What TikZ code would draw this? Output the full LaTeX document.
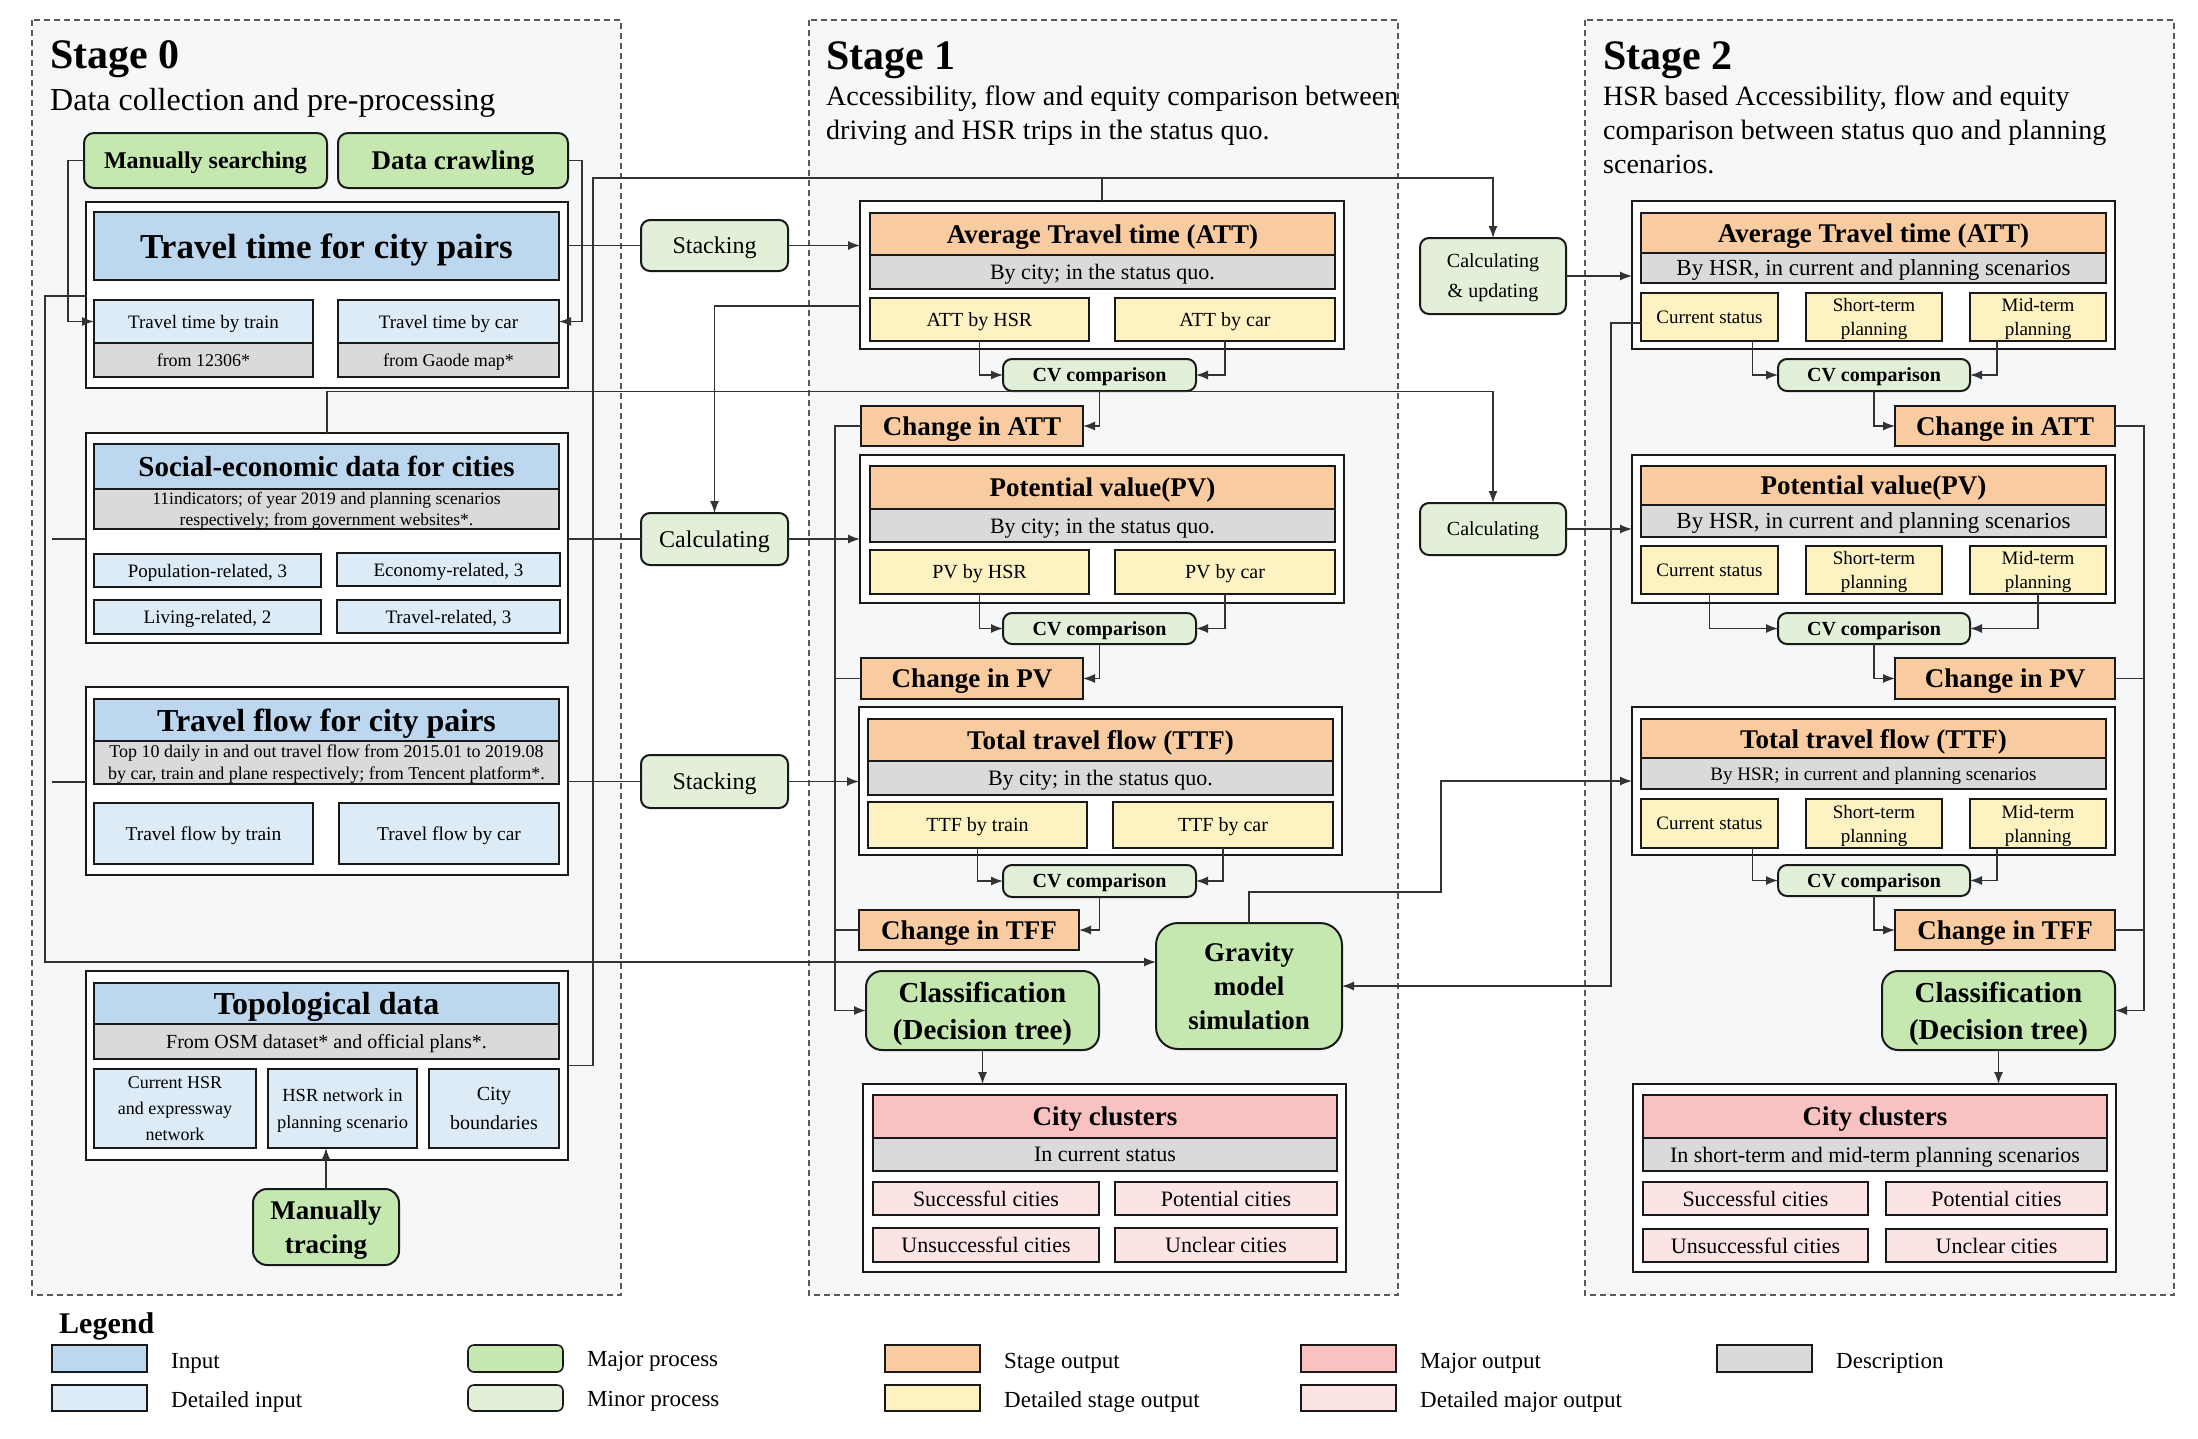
\documentclass[tikz,border=0pt]{standalone}
\usepackage{fontspec}
\setmainfont{Liberation Serif}
\usetikzlibrary{arrows.meta}
\definecolor{cin}{HTML}{BDD7EE}
\definecolor{cdin}{HTML}{DDEBF7}
\definecolor{cmaj}{HTML}{C5E8B0}
\definecolor{cmin}{HTML}{E2F0D9}
\definecolor{cso}{HTML}{F8CBA0}
\definecolor{cdso}{HTML}{FDF2C2}
\definecolor{cmo}{HTML}{F8C2C2}
\definecolor{cdmo}{HTML}{FCE4E4}
\definecolor{cdesc}{HTML}{DADADC}
\definecolor{cstage}{HTML}{F6F7F9}
\definecolor{cline}{HTML}{333333}
\newcommand{\fsz}[2]{\fontsize{#1pt}{#2pt}\selectfont}
\newcommand{\bx}[7]{%
  \pgfmathsetmacro\bxw{#5-#3}\pgfmathsetmacro\bxh{#6-#4}%
  \node[#2, minimum width=\bxw pt, minimum height=\bxh pt] (#1) at (#3,#4) {#7};}
\tikzset{
  bxbase/.style={draw=black!90, line width=2pt, inner sep=0pt, outer sep=0pt, align=center, anchor=north west, text=black, text depth=0pt},
  container/.style={bxbase, fill=white, line width=2.4pt},
  inp/.style={bxbase, fill=cin},
  dinp/.style={bxbase, fill=cdin},
  descb/.style={bxbase, fill=cdesc},
  sob/.style={bxbase, fill=cso},
  dsob/.style={bxbase, fill=cdso},
  mob/.style={bxbase, fill=cmo},
  dmob/.style={bxbase, fill=cdmo},
  majp/.style={bxbase, fill=cmaj, rounded corners=14pt},
  minp/.style={bxbase, fill=cmin, rounded corners=9pt},
  conn/.style={draw=cline, line width=1.3pt},
  arr/.style={conn, -{Latex[length=12pt,width=9pt]}},
  stagebox/.style={draw=black!65, dash pattern=on 6pt off 4pt, line width=1.3pt, fill=cstage},
  ttl/.style={anchor=base west, inner sep=0pt, font={\fsz{42}{48}\bfseries}},
  sub/.style={anchor=base west, inner sep=0pt, font={\fsz{28}{33}}},
  hbig/.style={font={\fsz{27}{32}\bfseries}},
  dtxt/.style={font={\fsz{22}{26}}},
  stxt/.style={font={\fsz{20}{24}}},
  cvt/.style={font={\fsz{20}{24}\bfseries}},
  lgt/.style={anchor=west, inner sep=0pt, font={\fsz{23}{27}}}
}
\begin{document}
\begin{tikzpicture}[x=1pt,y=-1pt]
\fill[white] (0,0) rectangle (2198,1438);
\useasboundingbox (0,0) rectangle (2198,1438);
% stage backgrounds
\draw[stagebox] (32,20) rectangle (621,1295);
\draw[stagebox] (809,20) rectangle (1398,1295);
\draw[stagebox] (1585,20) rectangle (2174,1295);
\node[ttl] (t0) at (50,68) {Stage 0};
\node[sub, font={\fsz{32}{36}}] (s0) at (50,110) {Data collection  and pre-processing};
\node[ttl] (t1) at (826,69) {Stage 1};
\node[sub] (s1a) at (826,105) {Accessibility,  flow and equity comparison between};
\node[sub] (s1b) at (826,139) {driving  and HSR trips in the status quo.};
\node[ttl] (t2) at (1603,69) {Stage 2};
\node[sub] (s2a) at (1603,105) {HSR based Accessibility,  flow and equity};
\node[sub] (s2b) at (1603,139) {comparison between status quo and planning};
\node[sub] (s2c) at (1603,173) {scenarios.};

% ---------- Stage 0 ----------
\bx{ms}{majp, rounded corners=10pt, font={\fsz{24}{28}\bfseries}}{84}{133}{327}{188}{Manually searching}
\bx{dc}{majp, rounded corners=10pt, font={\fsz{27}{32}\bfseries}}{338}{133}{568}{188}{Data crawling}
\bx{ttout}{container}{86}{202}{568}{388}{}
\bx{tth}{inp, font={\fsz{35}{40}\bfseries}}{94}{212}{559}{280}{Travel time for city pairs}
\bx{ttr}{dinp, font={\fsz{19}{23}}}{94}{300}{313}{343}{Travel  time  by train}
\bx{ttrs}{descb, font={\fsz{18}{22}}}{94}{343}{313}{377}{from 12306*}
\bx{tca}{dinp, font={\fsz{19}{23}}}{338}{300}{559}{343}{Travel  time  by car}
\bx{tcas}{descb, font={\fsz{18}{22}}}{338}{343}{559}{377}{from Gaode map*}
\bx{seout}{container}{86}{433}{568}{643}{}
\bx{seh}{inp, font={\fsz{29}{33}\bfseries}}{94}{444}{559}{489}{Social-economic data for cities}
\bx{sed}{descb, font={\fsz{17.5}{21}}}{94}{489}{559}{529}{11indicators; of year 2019 and planning  scenarios\\respectively; from government websites*.}
\bx{pop}{dinp, font={\fsz{19}{23}}}{94}{554}{321}{587}{Population-related,  3}
\bx{eco}{dinp, font={\fsz{19}{23}}}{337}{553}{560}{586}{Economy-related,  3}
\bx{liv}{dinp, font={\fsz{19}{23}}}{94}{600}{321}{634}{Living-related,  2}
\bx{tra}{dinp, font={\fsz{19}{23}}}{337}{600}{560}{633}{Travel-related,  3}
\bx{tfout}{container}{86}{687}{568}{875}{}
\bx{tfh}{inp, font={\fsz{32}{36}\bfseries}}{94}{699}{559}{741}{Travel  flow  for city pairs}
\bx{tfd}{descb, font={\fsz{18}{22}}}{94}{741}{559}{784}{Top 10 daily in and out travel flow from 2015.01 to 2019.08\\by car, train and plane respectively; from Tencent platform*.}
\bx{tftr}{dinp, font={\fsz{19.5}{23}}}{94}{803}{313}{864}{Travel  flow  by train}
\bx{tfca}{dinp, font={\fsz{19.5}{23}}}{339}{803}{559}{864}{Travel  flow  by car}
\bx{toout}{container}{86}{971}{568}{1160}{}
\bx{toh}{inp, font={\fsz{32}{36}\bfseries}}{94}{983}{559}{1024}{Topological  data}
\bx{tod}{descb, font={\fsz{20}{24}}}{94}{1024}{559}{1059}{From OSM dataset* and official  plans*.}
\bx{tocur}{dinp, font={\fsz{18}{26}}}{94}{1069}{256}{1148}{Current HSR\\and expressway\\network}
\bx{tohsr}{dinp, font={\fsz{18.5}{27}}}{268}{1069}{417}{1148}{HSR network in\\planning scenario}
\bx{tocity}{dinp, font={\fsz{20}{29}}}{429}{1069}{559}{1148}{City\\boundaries}
\bx{mt}{majp, font={\fsz{27}{34}\bfseries}}{253}{1189}{399}{1265}{Manually\\tracing}

% ---------- Stage 1 ----------
\bx{stk1}{minp, font={\fsz{24}{28}}}{641}{220}{788}{271}{Stacking}
\bx{calc1}{minp, font={\fsz{24}{28}}}{641}{513}{788}{565}{Calculating}
\bx{stk2}{minp, font={\fsz{24}{28}}}{641}{755}{788}{808}{Stacking}

\bx{att1out}{container}{860}{201}{1344}{349}{}
\bx{att1h}{sob, hbig}{870}{213}{1335}{255}{Average Travel time (ATT)}
\bx{att1d}{descb, dtxt}{870}{255}{1335}{289}{By city;  in the status quo.}
\bx{att1a}{dsob, stxt}{870}{298}{1089}{341}{ATT by HSR}
\bx{att1b}{dsob, stxt}{1115}{298}{1335}{341}{ATT by car}
\bx{cv1a}{minp, cvt}{1003}{359}{1196}{391}{CV comparison}
\bx{chatt1}{sob, hbig}{861}{406}{1083}{446}{Change in ATT}

\bx{pv1out}{container}{860}{455}{1344}{603}{}
\bx{pv1h}{sob, hbig}{870}{466}{1335}{509}{Potential value(PV)}
\bx{pv1d}{descb, dtxt}{870}{509}{1335}{542}{By city;  in the status quo.}
\bx{pv1a}{dsob, stxt}{870}{550}{1089}{594}{PV by HSR}
\bx{pv1b}{dsob, stxt}{1115}{550}{1335}{594}{PV by car}
\bx{cv1b}{minp, cvt}{1003}{613}{1196}{644}{CV comparison}
\bx{chpv1}{sob, hbig}{861}{658}{1083}{699}{Change in PV}

\bx{ttf1out}{container}{859}{707}{1342}{855}{}
\bx{ttf1h}{sob, hbig}{868}{719}{1333}{761}{Total  travel  flow  (TTF)}
\bx{ttf1d}{descb, dtxt}{868}{761}{1333}{795}{By city;  in the status quo.}
\bx{ttf1a}{dsob, stxt}{868}{802}{1087}{848}{TTF by train}
\bx{ttf1b}{dsob, stxt}{1113}{802}{1333}{848}{TTF by car}
\bx{cv1c}{minp, cvt}{1003}{865}{1196}{897}{CV comparison}
\bx{chtff1}{sob, hbig}{859}{910}{1079}{950}{Change in TFF}

\bx{grav}{majp, rounded corners=22pt, font={\fsz{27}{34}\bfseries}}{1156}{923}{1342}{1049}{Gravity\\model\\simulation}
\bx{cls1}{majp, rounded corners=16pt, font={\fsz{29}{37}\bfseries}}{866}{971}{1099}{1050}{Classification\\(Decision tree)}

\bx{cc1out}{container}{863}{1084}{1346}{1272}{}
\bx{cc1h}{mob, hbig}{873}{1095}{1337}{1138}{City clusters}
\bx{cc1d}{descb, dtxt}{873}{1138}{1337}{1171}{In current status}
\bx{cc1a}{dmob, dtxt}{873}{1182}{1099}{1215}{Successful cities}
\bx{cc1b}{dmob, dtxt}{1115}{1182}{1337}{1215}{Potential cities}
\bx{cc1c}{dmob, dtxt}{873}{1228}{1099}{1262}{Unsuccessful cities}
\bx{cc1e}{dmob, dtxt}{1115}{1228}{1337}{1262}{Unclear cities}

% ---------- Stage 2 ----------
\bx{cu}{minp, font={\fsz{20}{30}}}{1420}{238}{1566}{314}{Calculating\\\& updating}
\bx{calc2}{minp, font={\fsz{20}{24}}}{1420}{503}{1566}{555}{Calculating}

\bx{att2out}{container}{1632}{201}{2115}{349}{}
\bx{att2h}{sob, hbig}{1641}{213}{2106}{253}{Average Travel time (ATT)}
\bx{att2d}{descb, font={\fsz{23}{27}}}{1641}{253}{2106}{283}{By HSR, in current and planning scenarios}
\bx{att2a}{dsob, font={\fsz{19}{24}}}{1641}{293}{1778}{341}{Current  status}
\bx{att2b}{dsob, font={\fsz{19}{24}}}{1806}{293}{1942}{341}{Short-term\\planning}
\bx{att2c}{dsob, font={\fsz{19}{24}}}{1970}{293}{2106}{341}{Mid-term\\planning}
\bx{cv2a}{minp, cvt}{1778}{359}{1970}{391}{CV comparison}
\bx{chatt2}{sob, hbig}{1895}{406}{2115}{446}{Change in ATT}

\bx{pv2out}{container}{1632}{455}{2115}{603}{}
\bx{pv2h}{sob, hbig}{1641}{466}{2106}{505}{Potential value(PV)}
\bx{pv2d}{descb, font={\fsz{23}{27}}}{1641}{505}{2106}{537}{By HSR, in current and planning scenarios}
\bx{pv2a}{dsob, font={\fsz{19}{24}}}{1641}{546}{1778}{594}{Current  status}
\bx{pv2b}{dsob, font={\fsz{19}{24}}}{1806}{546}{1942}{594}{Short-term\\planning}
\bx{pv2c}{dsob, font={\fsz{19}{24}}}{1970}{546}{2106}{594}{Mid-term\\planning}
\bx{cv2b}{minp, cvt}{1778}{613}{1970}{644}{CV comparison}
\bx{chpv2}{sob, hbig}{1895}{658}{2115}{699}{Change in PV}

\bx{ttf2out}{container}{1632}{707}{2115}{855}{}
\bx{ttf2h}{sob, hbig}{1641}{719}{2106}{758}{Total  travel  flow  (TTF)}
\bx{ttf2d}{descb, font={\fsz{19}{23}}}{1641}{758}{2106}{789}{By HSR;  in current and planning  scenarios}
\bx{ttf2a}{dsob, font={\fsz{19}{24}}}{1641}{799}{1778}{848}{Current  status}
\bx{ttf2b}{dsob, font={\fsz{19}{24}}}{1806}{799}{1942}{848}{Short-term\\planning}
\bx{ttf2c}{dsob, font={\fsz{19}{24}}}{1970}{799}{2106}{848}{Mid-term\\planning}
\bx{cv2c}{minp, cvt}{1778}{865}{1970}{896}{CV comparison}
\bx{chtff2}{sob, hbig}{1895}{910}{2115}{950}{Change in TFF}

\bx{cls2}{majp, rounded corners=16pt, font={\fsz{29}{37}\bfseries}}{1882}{971}{2115}{1050}{Classification\\(Decision tree)}

\bx{cc2out}{container}{1633}{1084}{2116}{1272}{}
\bx{cc2h}{mob, hbig}{1643}{1095}{2107}{1138}{City clusters}
\bx{cc2d}{descb, dtxt}{1643}{1138}{2107}{1171}{In short-term and mid-term planning scenarios}
\bx{cc2a}{dmob, dtxt}{1643}{1182}{1868}{1215}{Successful cities}
\bx{cc2b}{dmob, dtxt}{1886}{1182}{2107}{1215}{Potential cities}
\bx{cc2c}{dmob, dtxt}{1643}{1229}{1868}{1262}{Unsuccessful cities}
\bx{cc2e}{dmob, dtxt}{1886}{1229}{2107}{1262}{Unclear cities}

% ---------- bend coordinates ----------
\coordinate (cA) at (45,296);
\coordinate (cB) at (45,962);
\coordinate (cC) at (52,539);
\coordinate (cD) at (52,782);
\coordinate (cE) at (593,178);
\coordinate (cF) at (0,306);
\coordinate (cG) at (1493,391.5);
\coordinate (cH) at (835,0);
\coordinate (cI) at (1441,892);
\coordinate (cJ) at (1611,323);
\coordinate (cK) at (2144,0);

% ---------- connectors ----------
\draw[arr] (ms.west) -- ++(-16,0) |- (ttr.west);
\draw[arr] (dc.east) -- ++(14,0) |- (tca.east);
\draw[arr] (ttout.west |- cA) -- (cA) -- (cB) -- (grav.west |- cB);
\draw[conn] (seout.west |- cC) -- (cC);
\draw[conn] (tfout.west |- cD) -- (cD);
\draw[conn] (ttout.east |- stk1.west) -- (stk1.west);
\draw[arr] (stk1.east) -- (stk1.east -| att1out.west);
\draw[conn] (seout.east |- calc1.west) -- (calc1.west);
\draw[arr] (calc1.east) -- (calc1.east -| pv1out.west);
\draw[conn] (tfout.east |- stk2.west) -- (stk2.west);
\draw[arr] (stk2.east) -- (stk2.east -| ttf1out.west);
\draw[arr] (toout.east) -| (cE) -| (cu.north);
\draw[conn] (att1out.north) -- (att1out.north |- cE);
\draw[arr] (att1out.west |- cF) -| (calc1.north);
\draw[arr] (seout.north) |- (cG) -- (calc2.north);
\draw[arr] (cu.east) -- (cu.east -| att2out.west);
\draw[arr] (calc2.east) -- (calc2.east -| pv2out.west);
\draw[arr] (mt.north) -- (mt.north |- tohsr.south);
% stage 1 CV
\draw[arr] (att1a.south) |- (cv1a.west);
\draw[arr] (att1b.south) |- (cv1a.east);
\draw[arr] (cv1a.south) |- (chatt1.east);
\draw[arr] (pv1a.south) |- (cv1b.west);
\draw[arr] (pv1b.south) |- (cv1b.east);
\draw[arr] (cv1b.south) |- (chpv1.east);
\draw[arr] (ttf1a.south) |- (cv1c.west);
\draw[arr] (ttf1b.south) |- (cv1c.east);
\draw[arr] (cv1c.south) |- (chtff1.east);
\draw[arr] (chatt1.west) -| (cH |- cls1.west) -- (cls1.west);
\draw[conn] (chpv1.west) -- (chpv1.west -| cH);
\draw[conn] (chtff1.west) -- (chtff1.west -| cH);
\draw[arr] (cls1.south) -- (cls1.south |- cc1out.north);
% gravity
\draw[arr] (grav.north) |- (cI) |- (ttf2out.west);
\draw[arr] (att2a.west |- cJ) -- (cJ) |- (grav.east);
% stage 2 CV
\draw[arr] ([xshift=43pt]att2a.south) |- (cv2a.west);
\draw[arr] ([xshift=-41pt]att2c.south) |- (cv2a.east);
\draw[arr] (cv2a.south) |- (chatt2.west);
\draw[arr] (pv2a.south) |- (cv2b.west);
\draw[arr] (pv2c.south) |- (cv2b.east);
\draw[arr] (cv2b.south) |- (chpv2.west);
\draw[arr] ([xshift=43pt]ttf2a.south) |- (cv2c.west);
\draw[arr] ([xshift=-41pt]ttf2c.south) |- (cv2c.east);
\draw[arr] (cv2c.south) |- (chtff2.west);
\draw[arr] (chatt2.east) -| (cK |- cls2.east) -- (cls2.east);
\draw[conn] (chpv2.east) -- (chpv2.east -| cK);
\draw[conn] (chtff2.east) -- (chtff2.east -| cK);
\draw[arr] (cls2.south) -- (cls2.south |- cc2out.north);

% ---------- legend ----------
\node[anchor=base west, inner sep=0pt, font={\fsz{30}{34}\bfseries}] (lgtitle) at (59,1333) {Legend};
\bx{lg1}{inp, line width=1.6pt}{52}{1345}{147}{1372}{}
\bx{lg2}{dinp, line width=1.6pt}{52}{1385}{147}{1411}{}
\bx{lg3}{majp, rounded corners=6pt, line width=1.6pt}{468}{1345}{563}{1372}{}
\bx{lg4}{minp, rounded corners=6pt, line width=1.6pt}{468}{1385}{563}{1411}{}
\bx{lg5}{sob, line width=1.6pt}{885}{1345}{980}{1372}{}
\bx{lg6}{dsob, line width=1.6pt}{885}{1385}{980}{1411}{}
\bx{lg7}{mob, line width=1.6pt}{1301}{1345}{1396}{1372}{}
\bx{lg8}{dmob, line width=1.6pt}{1301}{1385}{1396}{1411}{}
\bx{lg9}{descb, line width=1.6pt}{1717}{1345}{1812}{1372}{}
\node[lgt] (lt1) at (171,1363) {Input};
\node[lgt] (lt2) at (171,1402) {Detailed input};
\node[lgt] (lt3) at (587,1361) {Major process};
\node[lgt] (lt4) at (587,1401) {Minor process};
\node[lgt] (lt5) at (1004,1363) {Stage output};
\node[lgt] (lt6) at (1004,1402) {Detailed stage output};
\node[lgt] (lt7) at (1420,1363) {Major output};
\node[lgt] (lt8) at (1420,1402) {Detailed major output};
\node[lgt] (lt9) at (1836,1363) {Description};
\end{tikzpicture}
\end{document}
